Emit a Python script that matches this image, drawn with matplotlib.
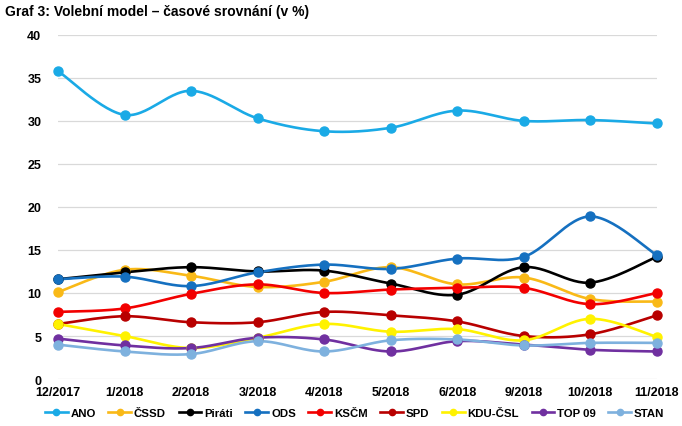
import matplotlib
matplotlib.use("Agg")
import matplotlib.pyplot as plt
import numpy as np
from matplotlib.lines import Line2D

plt.rcParams["font.family"] = ["Liberation Sans", "DejaVu Sans"]

months = ["12/2017", "1/2018", "2/2018", "3/2018", "4/2018",
          "5/2018", "6/2018", "9/2018", "10/2018", "11/2018"]

ano = [35.8, 30.7, 33.5, 30.3, 28.8, 29.2, 31.2, 30.0, 30.1, 29.7]
cssd = [10.1, 12.7, 12.0, 10.7, 11.3, 13.0, 11.0, 11.8, 9.3, 9.0]
pirati = [11.6, 12.4, 13.0, 12.5, 12.6, 11.1, 9.8, 13.0, 11.2, 14.2]
ods = [11.6, 11.9, 10.8, 12.4, 13.3, 12.8, 14.0, 14.2, 18.9, 14.4]
kscm = [7.8, 8.2, 9.9, 11.0, 10.0, 10.4, 10.6, 10.6, 8.7, 10.0]
spd = [6.4, 7.3, 6.6, 6.6, 7.8, 7.4, 6.7, 5.0, 5.2, 7.4]
kdu = [6.4, 5.0, 3.6, 4.8, 6.4, 5.5, 5.8, 4.5, 7.0, 4.9]
top09 = [4.7, 3.9, 3.6, 4.8, 4.6, 3.2, 4.4, 4.0, 3.4, 3.2]
stan = [4.0, 3.2, 2.9, 4.4, 3.2, 4.5, 4.6, 3.9, 4.2, 4.2]

parties = ["ANO", "ČSSD", "Piráti", "ODS", "KSČM", "SPD", "KDU-ČSL", "TOP 09", "STAN"]
series = [ano, cssd, pirati, ods, kscm, spd, kdu, top09, stan]
colors = ["#1AAAE6", "#F9B917", "#000000", "#1570C0", "#F20000",
          "#B80000", "#FFF200", "#7030A0", "#7EB1DE"]


def smooth(xs, ys, n=30):
    # Catmull-Rom style bezier, similar to spreadsheet "smoothed line"
    xs = np.asarray(xs, float)
    ys = np.asarray(ys, float)
    px, py = [], []
    for i in range(len(xs) - 1):
        x0, y0 = (xs[i - 1], ys[i - 1]) if i > 0 else (xs[i], ys[i])
        x1, y1 = xs[i], ys[i]
        x2, y2 = xs[i + 1], ys[i + 1]
        x3, y3 = (xs[i + 2], ys[i + 2]) if i + 2 < len(xs) else (x2, y2)
        c1x, c1y = x1 + (x2 - x0) / 6, y1 + (y2 - y0) / 6
        c2x, c2y = x2 - (x3 - x1) / 6, y2 - (y3 - y1) / 6
        t = np.linspace(0, 1, n)
        bx = (1 - t) ** 3 * x1 + 3 * (1 - t) ** 2 * t * c1x + 3 * (1 - t) * t ** 2 * c2x + t ** 3 * x2
        by = (1 - t) ** 3 * y1 + 3 * (1 - t) ** 2 * t * c1y + 3 * (1 - t) * t ** 2 * c2y + t ** 3 * y2
        px.extend(bx)
        py.extend(by)
    return px, py


fig = plt.figure(figsize=(6.82, 4.27), dpi=100)
ax = fig.add_axes([0.085, 0.110, 0.878, 0.806])

x = np.arange(len(months))
for vals, col in zip(series, colors):
    sx, sy = smooth(x, vals)
    ax.plot(sx, sy, color=col, lw=1.9, solid_capstyle="round", zorder=3)
    ax.plot(x, vals, "o", color=col, ms=6.5, zorder=4)

ax.set_xlim(0, len(months) - 1)
ax.set_ylim(0, 40)
ax.set_yticks(range(0, 41, 5))
ax.set_xticks(x)
ax.set_xticklabels(months)
ax.grid(axis="y", color="#D9D9D9", lw=0.9)
ax.set_axisbelow(True)
for s in ax.spines.values():
    s.set_visible(False)
ax.tick_params(length=0, labelsize=9)
ax.tick_params(axis="y", pad=12)
ax.tick_params(axis="x", pad=5)
for lab in ax.get_xticklabels() + ax.get_yticklabels():
    lab.set_fontweight("bold")
for ln in ax.lines:
    ln.set_clip_on(False)

fig.text(0.007, 0.972, "Graf 3: Volební model – časové srovnání (v %)",
         fontsize=10, fontweight="bold", va="center", ha="left")

handles = [Line2D([0], [0], color=c, lw=1.9, marker="o", ms=4.5) for c in colors]
fig.legend(handles, parties, loc="center", bbox_to_anchor=(0.52, 0.03), ncol=9,
           frameon=False, prop={"weight": "bold", "size": 8.2},
           handlelength=2.0, handletextpad=0.25, columnspacing=1.1,
           borderaxespad=0, borderpad=0)

fig.savefig("out.png", dpi=100)
